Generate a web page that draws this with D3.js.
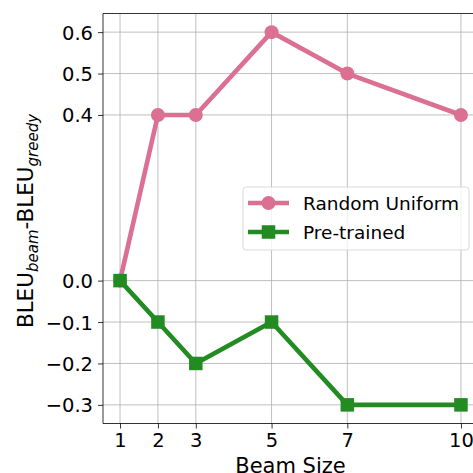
<!DOCTYPE html>
<html><head><meta charset="utf-8">
<script src="https://cdn.jsdelivr.net/npm/d3@7"></script>
<style>body{margin:0;background:#fff;} svg{display:block;font-family:"DejaVu Sans",sans-serif;}</style>
</head><body>
<svg id="c" width="473" height="473"></svg>
<script>
const beamSizes = [1, 2, 3, 5, 7, 10];
const randomUniform = [0.0, 0.4, 0.4, 0.6, 0.5, 0.4];
const preTrained = [0.0, -0.1, -0.2, -0.1, -0.3, -0.3];
const yTicks = [0.6, 0.5, 0.4, 0.0, -0.1, -0.2, -0.3];
const seriesNames = ["Random Uniform", "Pre-trained"];
const colors = ["#DB7093", "#228B22"];

const svg = d3.select("#c");
const L = 103, R = 478, T = 13.5, B = 423.5;
const x = d3.scaleLinear().domain([0.55, 10.45]).range([L, R]);
const y = d3.scaleLinear().domain([-0.345, 0.645]).range([B, T]);

// grid
const g = svg.append("g");
g.selectAll(".vg").data(beamSizes).join("line")
  .attr("x1", d => x(d)).attr("x2", d => x(d)).attr("y1", T).attr("y2", B)
  .attr("stroke", "#b0b0b0").attr("stroke-width", 0.8);
g.selectAll(".hg").data(yTicks).join("line")
  .attr("x1", L).attr("x2", R).attr("y1", d => y(d)).attr("y2", d => y(d))
  .attr("stroke", "#b0b0b0").attr("stroke-width", 0.8);

// axes
const fmt = d => (d < 0 ? "\u2212" : "") + Math.abs(d).toFixed(1);
const xAxis = svg.append("g").attr("transform", `translate(0,${B})`)
  .call(d3.axisBottom(x).tickValues(beamSizes).tickSize(5).tickPadding(4).tickFormat(d3.format("d")));
const yAxis = svg.append("g").attr("transform", `translate(${L},0)`)
  .call(d3.axisLeft(y).tickValues(yTicks).tickSize(5).tickPadding(5).tickFormat(fmt));
[xAxis, yAxis].forEach(a => {
  a.select(".domain").remove();
  a.selectAll("text").attr("font-size", 19.5).attr("fill", "#000").attr("font-family", "DejaVu Sans");
  a.selectAll("line").attr("stroke", "#000").attr("stroke-width", 0.8);
});
yAxis.selectAll("text").attr("dy", "0.36em");
xAxis.selectAll("text").attr("dy", "0.73em");

// spines
[[L, L, T, B], [L, R, B, B], [L, R, T, T], [R, R, T, B]].forEach(s =>
  svg.append("line").attr("x1", s[0]).attr("x2", s[1]).attr("y1", s[2]).attr("y2", s[3])
    .attr("stroke", "#000").attr("stroke-width", 0.8));

// lines
const line = d3.line().x((d, i) => x(beamSizes[i])).y(d => y(d));
const allSeries = [randomUniform, preTrained];
allSeries.forEach((s, k) => {
  svg.append("path").attr("d", line(s)).attr("fill", "none")
    .attr("stroke", colors[k]).attr("stroke-width", 4.6).attr("stroke-linejoin", "round");
  if (k === 0) {
    svg.selectAll(".m0").data(s).join("circle")
      .attr("cx", (d, i) => x(beamSizes[i])).attr("cy", d => y(d)).attr("r", 7).attr("fill", colors[k]);
  } else {
    svg.selectAll(".m1").data(s).join("rect")
      .attr("x", (d, i) => x(beamSizes[i]) - 6.75).attr("y", d => y(d) - 6.75)
      .attr("width", 13.5).attr("height", 13.5).attr("fill", colors[k]);
  }
});

// legend
const lg = svg.append("g");
lg.append("rect").attr("x", 243).attr("y", 187).attr("width", 226).attr("height", 63).attr("rx", 3)
  .attr("fill", "#fff").attr("fill-opacity", 0.8).attr("stroke", "#d0d0d0").attr("stroke-width", 0.8);
seriesNames.forEach((n, k) => {
  const cy = 203 + k * 29;
  lg.append("line").attr("x1", 248).attr("x2", 289).attr("y1", cy).attr("y2", cy)
    .attr("stroke", colors[k]).attr("stroke-width", 4.6);
  if (k === 0) lg.append("circle").attr("cx", 268.5).attr("cy", cy).attr("r", 7).attr("fill", colors[k]);
  else lg.append("rect").attr("x", 261.75).attr("y", cy - 6.75).attr("width", 13.5).attr("height", 13.5).attr("fill", colors[k]);
  lg.append("text").attr("x", 303).attr("y", cy).attr("dy", "0.36em").attr("font-size", 18.5).text(n);
});

// axis labels
svg.append("text").attr("x", x(5.5)).attr("y", 473).attr("text-anchor", "middle")
  .attr("font-size", 21).text("Beam Size");
const yl = svg.append("text").attr("transform", `translate(33,221) rotate(-90)`)
  .attr("text-anchor", "middle").attr("font-size", 21.5);
yl.append("tspan").text("BLEU");
yl.append("tspan").attr("font-size", 15).attr("font-style", "italic").attr("dy", 5).text("beam");
yl.append("tspan").attr("dy", -5).text("-BLEU");
yl.append("tspan").attr("font-size", 15).attr("font-style", "italic").attr("dy", 5).text("greedy");
</script>
</body></html>
